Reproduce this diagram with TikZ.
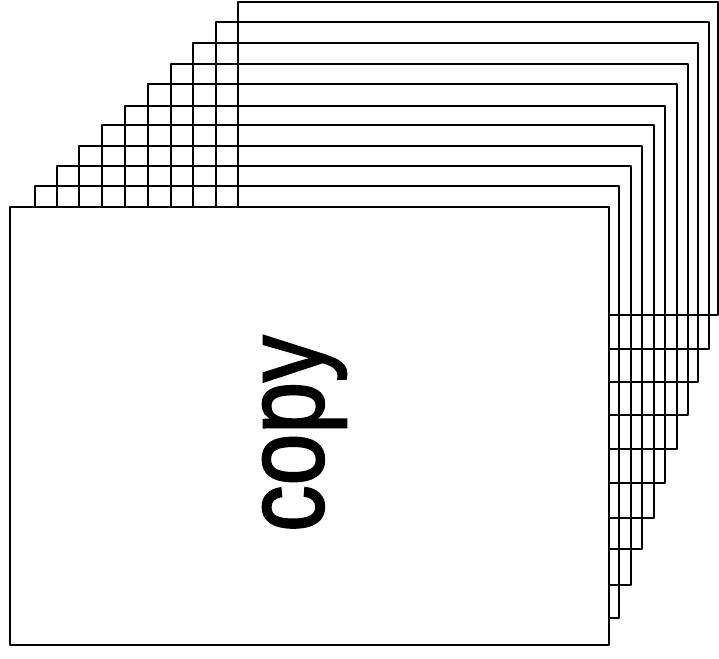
\documentclass[tikz,border=0pt]{standalone}
\usepackage{fontspec}
\newfontfamily\copyfont[FakeBold=2]{Liberation Sans}
\begin{document}
\begin{tikzpicture}[x=1pt,y=-1pt,
  sheet/.style={line width=2.2pt, line join=round},
  frontsheet/.style={sheet, fill=white}]
\useasboundingbox (0,0) rectangle (719,658);
% back sheets, from the back-most to the one just behind the front
\foreach \l/\t/\r/\b in {
  238/2/718/315, 216/22/709/349, 193/43/698/382, 171/64/688/415,
  148/84/677/449, 125/106/665/483, 102/125/654/518, 79/146/642/549,
  57/166/631/585, 35/186/619/618}
  {\draw[sheet] (\l,\t) rectangle (\r,\b);}
% front sheet
\draw[frontsheet] (10,207) rectangle (609,645);
\node[rotate=90, xscale=0.83, anchor=base west, inner sep=0pt,
      font=\copyfont\fontsize{112}{112}\selectfont] (copy) at (323,532) {copy};
\end{tikzpicture}
\end{document}
